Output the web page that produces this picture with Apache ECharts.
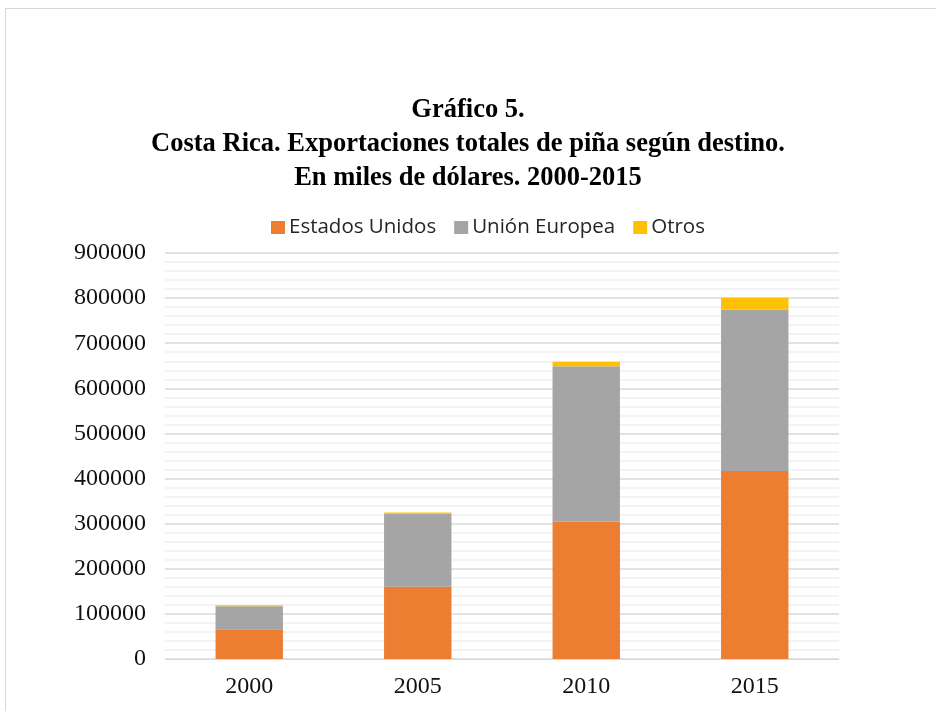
<!DOCTYPE html>
<html>
<head>
<meta charset="utf-8">
<script src="https://cdn.jsdelivr.net/npm/echarts@6/dist/echarts.min.js"></script>
<style>
  html, body { margin: 0; padding: 0; background: #fff; }
  #frame {
    position: absolute; left: 5px; top: 8px;
    width: 1000px; height: 800px;
    border: 1px solid #d9d9d9;
  }
  #chart { position: absolute; left: 0; top: 0; width: 936px; height: 711px; }
</style>
</head>
<body>
<div id="frame"></div>
<div id="chart"></div>
<script>
// datos (miles de dólares)
const years = ['2000', '2005', '2010', '2015'];
const estadosUnidos = [66000, 160000, 304000, 417000];
const unionEuropea = [51000, 162000, 345000, 357000];
const otros = [2000, 2500, 10000, 27000];

const chart = echarts.init(document.getElementById('chart'));

chart.setOption({
  animation: false,
  title: {
    text: 'Gráfico 5.\nCosta Rica. Exportaciones totales de piña según destino.\nEn miles de dólares. 2000-2015',
    left: 'center',
    top: 88,
    textStyle: {
      fontFamily: 'Liberation Serif',
      fontWeight: 'bold',
      fontSize: 26.5,
      lineHeight: 34,
      color: '#000'
    }
  },
  legend: {
    left: 266,
    top: 212,
    itemWidth: 14,
    itemHeight: 13,
    itemGap: 18,
    icon: 'rect',
    textStyle: { fontFamily: 'Open Sans', fontSize: 20.5, color: '#262626', padding: [0, 0, 0, -1] },
    data: ['Estados Unidos', 'Unión Europea', 'Otros']
  },
  grid: { left: 165, right: 97, top: 253, bottom: 52 },
  xAxis: {
    type: 'category',
    data: years,
    axisLine: { lineStyle: { color: '#d9d9d9' } },
    axisTick: { show: false },
    axisLabel: { fontFamily: 'Liberation Serif', fontSize: 24, color: '#111', margin: 16 }
  },
  yAxis: {
    type: 'value',
    min: 0,
    max: 900000,
    interval: 100000,
    axisLine: { show: false },
    axisTick: { show: false },
    axisLabel: {
      fontFamily: 'Liberation Serif', fontSize: 24, color: '#111', margin: 19,
      formatter: v => String(v)
    },
    splitLine: { lineStyle: { color: '#d9d9d9', width: 1.5 } },
    minorTick: { show: false, splitNumber: 5 },
    minorSplitLine: { show: true, lineStyle: { color: '#f0f0f0', width: 1.5 } }
  },
  series: [
    {
      name: 'Estados Unidos', type: 'bar', stack: 'total',
      barCategoryGap: '60%',
      itemStyle: { color: '#ED7D31' },
      data: estadosUnidos
    },
    {
      name: 'Unión Europea', type: 'bar', stack: 'total',
      itemStyle: { color: '#A5A5A5' },
      data: unionEuropea
    },
    {
      name: 'Otros', type: 'bar', stack: 'total',
      itemStyle: { color: '#FFC000' },
      data: otros
    }
  ]
});
</script>
</body>
</html>
